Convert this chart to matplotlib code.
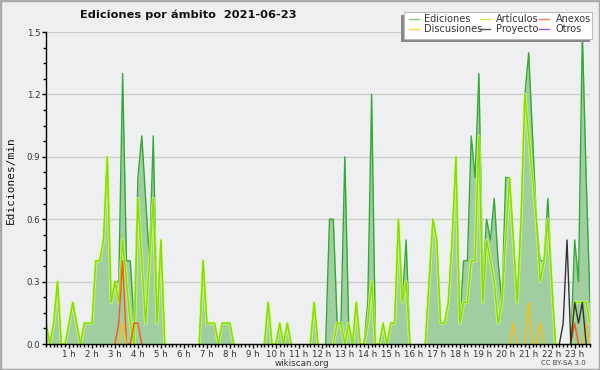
import matplotlib
matplotlib.use('Agg')
import matplotlib.pyplot as plt
from matplotlib.patches import Rectangle
from matplotlib.lines import Line2D
from matplotlib.ticker import MultipleLocator, FixedLocator, FixedFormatter
import numpy as np

# ---- data: edits per minute, 10-minute bins starting at 00:00 ----
ediciones = [0.1, 0, 0.1, 0.3, 0, 0, 0.1, 0.2, 0.1, 0,
             0.1, 0.1, 0.1, 0.4, 0.4, 0.5, 0.9, 0.2, 0.3, 0.3,
             1.3, 0.4, 0.4, 0.1, 0.8, 1.0, 0.7, 0.4, 1.0, 0.1,
             0.5, 0, 0, 0, 0, 0, 0, 0, 0, 0,
             0, 0.4, 0.1, 0.1, 0.1, 0, 0.1, 0.1, 0.1, 0,
             0, 0, 0, 0, 0, 0, 0, 0, 0.2, 0,
             0, 0.1, 0, 0.1, 0, 0, 0, 0, 0, 0,
             0.2, 0, 0, 0, 0.6, 0.6, 0.1, 0.1, 0.9, 0.1,
             0, 0.2, 0, 0, 0.2, 1.2, 0, 0, 0.1, 0,
             0.1, 0.1, 0.6, 0.2, 0.5, 0, 0, 0, 0, 0,
             0.3, 0.6, 0.5, 0.1, 0.1, 0.2, 0.5, 0.9, 0.1, 0.4,
             0.4, 1.0, 0.8, 1.3, 0.3, 0.6, 0.5, 0.7, 0.4, 0.2,
             0.8, 0.8, 0.5, 0.2, 0.6, 1.2, 1.4, 1.0, 0.6, 0.4,
             0.4, 0.7, 0.3, 0, 0, 0, 0, 0, 0.5, 0.3,
             1.5, 0.8, 0.2]

articulos = [0.1, 0, 0.1, 0.3, 0, 0, 0.1, 0.2, 0.1, 0,
             0.1, 0.1, 0.1, 0.4, 0.4, 0.5, 0.9, 0.2, 0.3, 0.2,
             0.5, 0.3, 0.1, 0, 0.7, 0.4, 0.1, 0.4, 0.7, 0.1,
             0.5, 0, 0, 0, 0, 0, 0, 0, 0, 0,
             0, 0.4, 0.1, 0.1, 0.1, 0, 0.1, 0.1, 0.1, 0,
             0, 0, 0, 0, 0, 0, 0, 0, 0.2, 0,
             0, 0.1, 0, 0.1, 0, 0, 0, 0, 0, 0,
             0.2, 0, 0, 0, 0, 0, 0.1, 0.1, 0, 0.1,
             0, 0.2, 0, 0, 0.1, 0.3, 0, 0, 0.1, 0,
             0.1, 0.1, 0.6, 0.2, 0.3, 0, 0, 0, 0, 0,
             0.3, 0.6, 0.5, 0.1, 0.1, 0.2, 0.5, 0.9, 0.1, 0.2,
             0.2, 0.4, 0.4, 1.0, 0.2, 0.5, 0.4, 0.3, 0.1, 0.2,
             0.5, 0.8, 0.5, 0.2, 0.6, 1.2, 1.0, 0.8, 0.6, 0.3,
             0.4, 0.6, 0.3, 0, 0, 0, 0, 0, 0.2, 0.2,
             0.2, 0.2, 0.1]

anexos = [0] * 19 + [0.1, 0.4, 0, 0, 0.1, 0.1] + [0] * 113 + [0.1] + [0] * 4

discusiones = [0] * 20 + [0.1] + [0] * 101 + [0.1, 0, 0, 0, 0.2, 0, 0, 0.1] \
              + [0] * 11 + [0.1, 0]

proyecto = [0] * 135 + [0.1, 0.5, 0, 0.2, 0.1, 0.2, 0, 0]

otros = [0] * 143

hour_labels = [f"{h} h" for h in range(1, 24)]

series_names = ["Ediciones", "Artículos", "Anexos", "Discusiones", "Proyecto", "Otros"]
legend_colors = ["#77cc77", "#c8ee44", "#ff7744", "#ffcc44", "#555555", "#9955ee"]


def visible(v):
    v = np.asarray(v, dtype=float)
    prev = np.r_[0.0, v[:-1]]
    nxt = np.r_[v[1:], 0.0]
    keep = (v > 0) | (prev > 0) | (nxt > 0)
    return np.where(keep, v, np.nan)


BG = '#eeeff1'
fig = plt.figure(figsize=(6, 3.7), dpi=100, facecolor=BG)
W, H = 600.0, 370.0
ax = fig.add_axes([46 / W, 26 / H, 544 / W, 312 / H])
ax.set_facecolor(BG)

x = np.arange(len(ediciones)) / 6.0

ax.fill_between(x, ediciones, color='#a0cea0', lw=0, zorder=1)
ax.plot(x, visible(ediciones), color='#33aa33', lw=1.0, zorder=2)
ax.plot(x, visible(articulos), color='#d4ff70', lw=2.4, alpha=0.7, zorder=3)
ax.plot(x, visible(articulos), color='#88dd00', lw=1.0, zorder=3.1)
ax.plot(x, visible(anexos), color='#ff5522', lw=1.0, zorder=4)
ax.plot(x, visible(discusiones), color='#ffbb11', lw=1.0, zorder=4)
ax.plot(x, visible(proyecto), color='#333333', lw=1.0, zorder=5)
ax.plot(x, visible(otros), color='#9955ee', lw=1.0, zorder=5)

ax.set_xlim(0, x[-1])
ax.set_ylim(0, 1.5)

for s in ['top', 'right']:
    ax.spines[s].set_visible(False)
for s in ['left', 'bottom']:
    ax.spines[s].set_color('black')
    ax.spines[s].set_linewidth(1.0)
    ax.spines[s].set_zorder(10)

ax.yaxis.set_major_locator(MultipleLocator(0.3))
ax.yaxis.set_minor_locator(MultipleLocator(0.075))
ax.yaxis.set_major_formatter(matplotlib.ticker.FormatStrFormatter('%.1f'))
ax.xaxis.set_major_locator(FixedLocator(list(range(1, 24))))
ax.xaxis.set_major_formatter(FixedFormatter(hour_labels))
ax.xaxis.set_minor_locator(MultipleLocator(1 / 6))

ax.tick_params(axis='both', which='major', direction='out', length=3, width=1,
               color='black', labelsize=6.2, labelcolor='#333333', pad=1.2)
ax.tick_params(axis='both', which='minor', direction='out', length=2.2, width=1,
               color='black')
ax.grid(axis='y', which='major', color='#cccccc', lw=0.9, zorder=0)
ax.set_axisbelow(True)

# texts
fig.text(188 / W, 1 - 15 / H, 'Ediciones por ámbito  2021-06-23', ha='center',
         va='center', fontsize=8.2, fontweight='bold', color='#111111')
fig.text(11 / W, 1 - 180 / H, 'Ediciones/min', rotation=90, ha='center',
         va='center', fontsize=8, family='DejaVu Sans Mono', color='#111111')
fig.text(302 / W, 1 - 364 / H, 'wikiscan.org', ha='center', va='center',
         fontsize=6.3, color='#333333')
fig.text(563 / W, 1 - 363 / H, 'CC BY-SA 3.0', ha='center', va='center',
         fontsize=5, color='#444444')

# legend (manual, with shadow)
def fx(px):
    return px / W


def fy(py):
    return 1 - py / H

fig.patches.append(Rectangle((fx(401), fy(42)), fx(590) - fx(401), fy(15) - fy(42),
                             transform=fig.transFigure, facecolor='#888888',
                             edgecolor='none', zorder=20))
fig.patches.append(Rectangle((fx(404), fy(39)), fx(592) - fx(404), fy(12) - fy(39),
                             transform=fig.transFigure, facecolor='white',
                             edgecolor='#bbbbbb', lw=0.8, zorder=21))
cols = [(409, 424), (480, 496), (539, 556)]
rows = [19, 29]
order = [(0, 0), (1, 0), (2, 0), (0, 1), (1, 1), (2, 1)]
for k, (name, col) in enumerate(zip(series_names, legend_colors)):
    c, r = order[k]
    lx, tx = cols[c]
    yy = rows[r]
    fig.lines.append(Line2D([fx(lx), fx(lx + 10)], [fy(yy), fy(yy)],
                            transform=fig.transFigure, color=col, lw=1.0, zorder=22))
    fig.text(fx(tx), fy(yy), name, ha='left', va='center', fontsize=7,
             color='#333333', zorder=23)

# outer frame
fig.patches.append(Rectangle((0, 0), 1, 1, transform=fig.transFigure, fill=False,
                             edgecolor='#aaaaaa', lw=2.5, zorder=30))

fig.savefig('out.png', dpi=100, facecolor=BG)
